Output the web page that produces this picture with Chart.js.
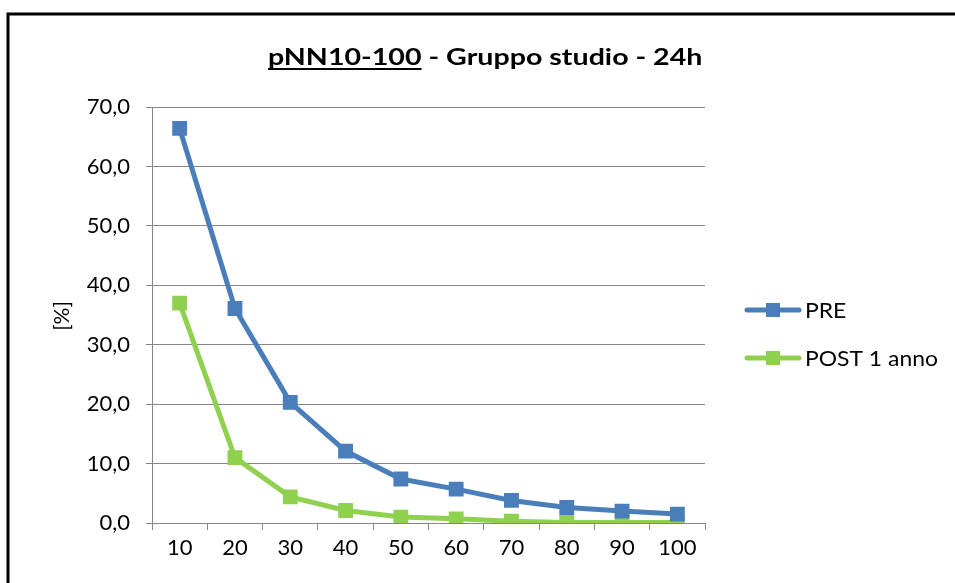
<!DOCTYPE html>
<html>
<head>
<meta charset="utf-8">
<script src="https://cdn.jsdelivr.net/npm/chart.js@4/dist/chart.umd.min.js"></script>
<style>
  html, body { margin: 0; padding: 0; background: #fff; }
  #wrap { width: 955px; height: 583px; position: relative; }
</style>
</head>
<body>
<div id="wrap"><canvas id="c" width="955" height="583"></canvas></div>
<script>
// pNN thresholds (ms) on the x axis
const categories = ['10', '20', '30', '40', '50', '60', '70', '80', '90', '100'];
// percentage of NN intervals above each threshold
const preValues  = [66.4, 36.1, 20.3, 12.1, 7.4, 5.7, 3.8, 2.6, 2.0, 1.5];
const postValues = [37.0, 11.0, 4.4, 2.1, 1.0, 0.7, 0.3, 0.1, 0.1, 0.1];
const seriesNames = ['PRE', 'POST 1 anno'];
const seriesColors = ['#4a7ebb', '#8fd14f'];
const yTicks = [0, 10, 20, 30, 40, 50, 60, 70];

const FONT = 'Lato, "Open Sans", sans-serif';
const GRID = '#868686';

// draw text slightly widened horizontally
function wideText(ctx, text, x, y, sx) {
  ctx.save();
  ctx.translate(x, y);
  ctx.scale(sx, 1);
  ctx.fillText(text, 0, 0);
  ctx.restore();
  return ctx.measureText(text).width * sx;
}

// outer frame, title with partial underline, axis title and side legend
const decorations = {
  id: 'decorations',
  beforeDraw(chart) {
    const ctx = chart.ctx;
    ctx.save();
    ctx.fillStyle = '#fff';
    ctx.fillRect(0, 0, chart.width, chart.height);
    ctx.strokeStyle = '#000';
    ctx.lineWidth = 3;
    ctx.beginPath();
    ctx.moveTo(8, chart.height);
    ctx.lineTo(8, 14);
    ctx.lineTo(chart.width, 14);
    ctx.stroke();
    ctx.restore();
  },
  afterDraw(chart) {
    const ctx = chart.ctx;
    ctx.save();
    // title
    ctx.font = 'bold 22px ' + FONT;
    ctx.fillStyle = '#000';
    ctx.textBaseline = 'alphabetic';
    const sx = 1.3;
    const by = 65;
    let x = 268;
    const w1 = wideText(ctx, 'pNN10-100', x, by, sx);
    ctx.fillRect(x, by + 3, w1, 2);
    wideText(ctx, ' - Gruppo studio - 24h', x + w1, by, sx);

    // y axis title
    ctx.font = '21px ' + FONT;
    ctx.textAlign = 'center';
    ctx.textBaseline = 'middle';
    ctx.save();
    ctx.translate(62, 316);
    ctx.rotate(-Math.PI / 2);
    ctx.fillText('[%]', 0, 0);
    ctx.restore();

    // legend
    ctx.textAlign = 'left';
    const rows = [310, 358];
    chart.data.datasets.forEach((ds, i) => {
      const y = rows[i];
      ctx.strokeStyle = ds.borderColor;
      ctx.lineWidth = 5;
      ctx.lineCap = 'round';
      ctx.beginPath();
      ctx.moveTo(747, y);
      ctx.lineTo(799, y);
      ctx.stroke();
      ctx.fillStyle = ds.backgroundColor;
      ctx.fillRect(766, y - 7, 14, 14);
      ctx.fillStyle = '#000';
      wideText(ctx, ds.label, 805, y + 1, 1.09);
    });
    ctx.restore();
  }
};

const datasets = [preValues, postValues].map((vals, i) => ({
  label: seriesNames[i],
  data: vals,
  borderColor: seriesColors[i],
  backgroundColor: seriesColors[i],
  borderWidth: 5,
  pointStyle: 'rect',
  pointRadius: 10.5,
  pointBorderWidth: 0,
  pointHoverRadius: 10.5,
  tension: 0
}));

new Chart(document.getElementById('c'), {
  type: 'line',
  data: { labels: categories, datasets },
  options: {
    responsive: false,
    animation: false,
    devicePixelRatio: 1,
    layout: { padding: { left: 0, right: 250, top: 107, bottom: 0 } },
    plugins: { legend: { display: false }, title: { display: false }, tooltip: { enabled: false } },
    scales: {
      x: {
        offset: true,
        grid: { offset: true, drawOnChartArea: false, drawTicks: true, tickLength: 7, color: GRID, lineWidth: 1 },
        border: { color: GRID, width: 1 },
        ticks: { color: '#000', font: { family: FONT, size: 22 }, padding: 5, maxRotation: 0, autoSkip: false },
        afterFit(scale) { scale.height = 60; }
      },
      y: {
        min: 0, max: 70,
        afterBuildTicks(scale) { scale.ticks = yTicks.map(v => ({ value: v })); },
        grid: { color: GRID, lineWidth: 1, drawTicks: true, tickLength: 6 },
        border: { color: GRID, width: 1 },
        ticks: {
          color: '#000', font: { family: FONT, size: 22 }, padding: 16,
          callback: v => v.toFixed(1).replace('.', ',')
        },
        afterFit(scale) { scale.width = 152; }
      }
    }
  },
  plugins: [decorations]
});
</script>
</body>
</html>
